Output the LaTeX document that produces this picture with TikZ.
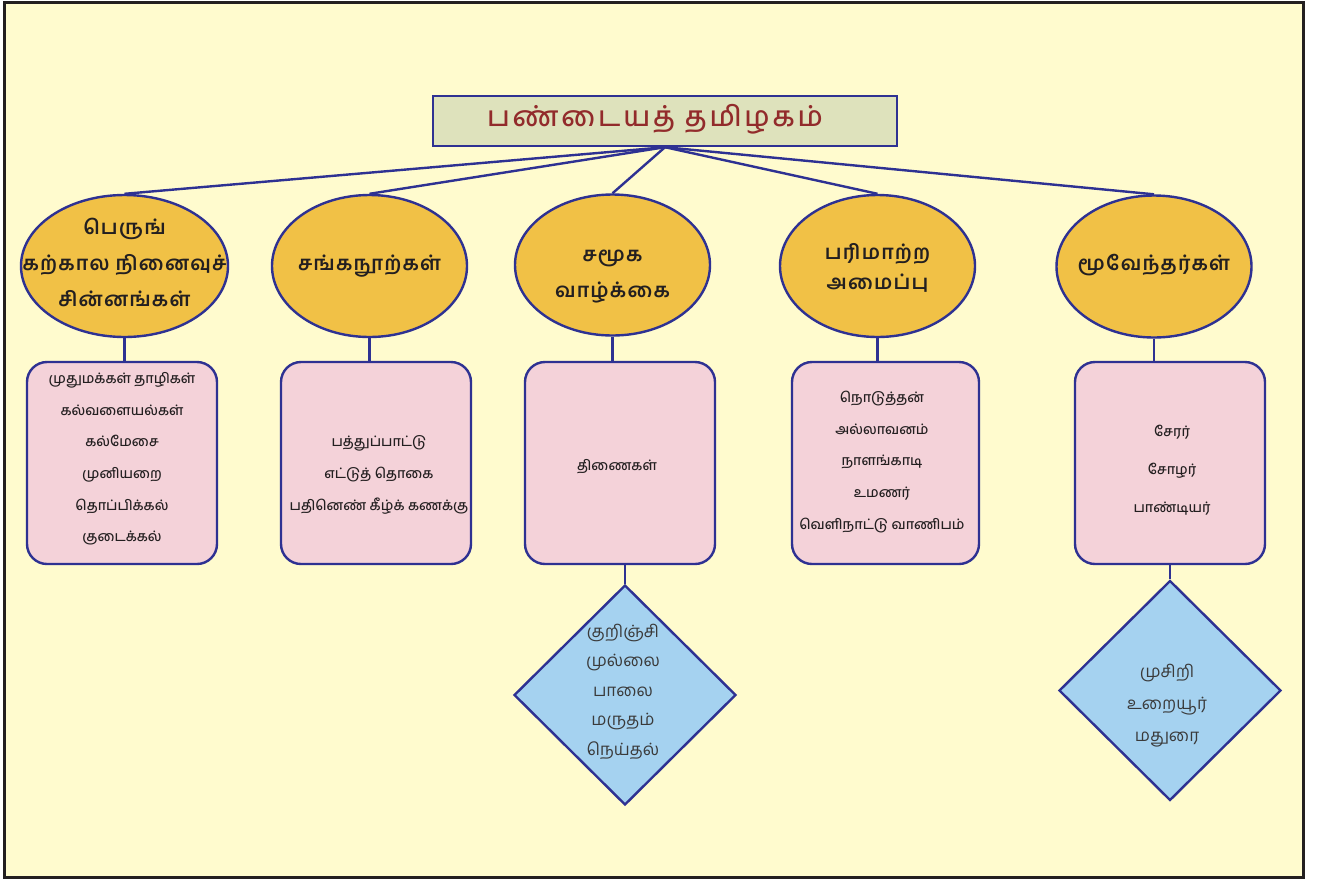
\documentclass[tikz,border=0pt]{standalone}
\usepackage{fontspec}
\usetikzlibrary{shapes.geometric}
\newfontfamily\tamil[Script=Tamil]{Hind Madurai}
\newfontfamily\tamilbox[Script=Tamil]{Hind Madurai Medium}
\newfontfamily\tamilmed[Script=Tamil,LetterSpace=6]{Hind Madurai SemiBold}
\newfontfamily\tamiltitle[Script=Tamil,LetterSpace=10]{Hind Madurai Medium}
\definecolor{bgc}{HTML}{FFFBCE}
\definecolor{framec}{HTML}{231F20}
\definecolor{lineblue}{HTML}{2E3192}
\definecolor{titlefill}{HTML}{DEE2BC}
\definecolor{titlered}{HTML}{922B2B}
\definecolor{ellfill}{HTML}{F1C146}
\definecolor{boxfill}{HTML}{F4D2D9}
\definecolor{diafill}{HTML}{A5D2F0}
\definecolor{txt}{HTML}{231F20}
\definecolor{dtxt}{HTML}{3A3A3A}
\begin{document}
\begin{tikzpicture}[x=1pt,y=-1pt,
  conn/.style={draw=lineblue,line width=2.4pt},
  ell/.style={ellipse,draw=lineblue,line width=2.4pt,fill=ellfill,inner sep=0pt,minimum width=195pt,minimum height=142pt},
  elltext/.style={align=center,text=txt,font=\tamilmed\fontsize{20}{36}\selectfont,inner sep=0pt},
  boxn/.style={rectangle,rounded corners=20pt,draw=lineblue,line width=2.4pt,fill=boxfill,inner sep=0pt,minimum width=190pt,minimum height=202pt},
  boxtext/.style={align=center,text=txt,font=\tamilbox\fontsize{14}{31.6}\selectfont,inner sep=0pt},
  dia/.style={diamond,draw=lineblue,line width=2.4pt,fill=diafill,inner sep=0pt,minimum width=222pt,minimum height=220pt},
  diatext/.style={align=center,text=dtxt,font=\tamil\fontsize{17}{29.5}\selectfont,inner sep=0pt}]
\useasboundingbox (0,0) rectangle (1322,879);
\fill[white] (0,0) rectangle (1322,879);
\draw[draw=framec,line width=3pt,fill=bgc] (4,2) rectangle (1303,877);
% title
\node[rectangle,draw=lineblue,line width=2.4pt,fill=titlefill,inner sep=0pt,minimum width=464pt,minimum height=50pt] (title) at (665,121) {};
\node[text=titlered,font=\tamiltitle\fontsize{28}{34}\selectfont,inner sep=0pt] (titlet) at (655,119) {பண்டையத் தமிழகம்};
% ellipses
\node[ell,minimum width=207pt] (e1) at (124.5,266) {};
\node[ell] (e2) at (369.5,266) {};
\node[ell,minimum height=141pt] (e3) at (612.5,265) {};
\node[ell] (e4) at (877.5,266) {};
\node[ell] (e5) at (1154,266.5) {};
\node[elltext] (e1t) at (124.5,262) {பெருங்\\கற்கால நினைவுச்\\சின்னங்கள்};
\node[elltext] (e2t) at (369.5,266) {சங்கநூற்கள்};
\node[elltext] (e3t) at (612.5,277) {சமூக\\வாழ்க்கை};
\node[elltext,font=\tamilmed\fontsize{20}{30}\selectfont] (e4t) at (877.5,268) {பரிமாற்ற\\அமைப்பு};
\node[elltext] (e5t) at (1154,265) {மூவேந்தர்கள்};
% boxes
\node[boxn] (b1) at (122,463) {};
\node[boxn] (b2) at (376,463) {};
\node[boxn] (b3) at (620,463) {};
\node[boxn,minimum width=187pt] (b4) at (885.5,463) {};
\node[boxn] (b5) at (1170,463) {};
\node[boxtext] (b1t) at (122,459) {முதுமக்கள் தாழிகள்\\கல்வளையல்கள்\\கல்மேசை\\முனியறை\\தொப்பிக்கல்\\குடைக்கல்};
\node[boxtext] (b2t) at (379,475) {பத்துப்பாட்டு\\எட்டுத் தொகை\\பதினெண் கீழ்க் கணக்கு};
\node[boxtext] (b3t) at (617,467) {திணைகள்};
\node[boxtext] (b4t) at (882,462) {நொடுத்தன்\\அல்லாவனம்\\நாளங்காடி\\உமணர்\\வெளிநாட்டு வாணிபம்};
\node[boxtext,font=\tamilbox\fontsize{14}{38}\selectfont] (b5t) at (1172,470) {சேரர்\\சோழர்\\பாண்டியர்};
% diamonds
\node[dia] (d1) at (625,695) {};
\node[dia] (d2) at (1170,690.5) {};
\node[diatext] (d1t) at (623,691.5) {குறிஞ்சி\\முல்லை\\பாலை\\மருதம்\\நெய்தல்};
\node[diatext,font=\tamil\fontsize{17}{32}\selectfont] (d2t) at (1167,706) {முசிறி\\உறையூர்\\மதுரை};
% connectors
\foreach \e in {e1,e2,e3,e4,e5} \draw[conn] (title.south) -- (\e.north);
\draw[conn] (e1.south) -- (e1.south |- b1.north);
\draw[conn] (e2.south) -- (e2.south |- b2.north);
\draw[conn] (e3.south) -- (e3.south |- b3.north);
\draw[conn] (e4.south) -- (e4.south |- b4.north);
\draw[conn] (e5.south) -- (e5.south |- b5.north);
\draw[conn] (d1.north |- b3.south) -- (d1.north);
\draw[conn] (b5.south) -- (d2.north);
\end{tikzpicture}
\end{document}
